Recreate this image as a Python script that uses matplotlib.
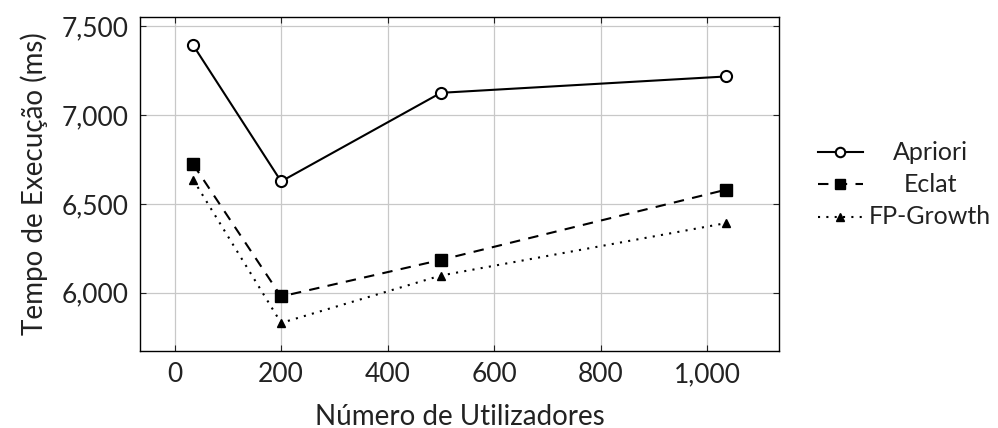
import matplotlib.pyplot as plt
from matplotlib.lines import Line2D
from matplotlib.ticker import FuncFormatter

plt.rcParams['font.family'] = ['Lato', 'DejaVu Sans']

# dados
utilizadores = [35, 200, 500, 1035]
apriori = [7393, 6627, 7126, 7218]
eclat = [6723, 5979, 6185, 6580]
fp_growth = [6636, 5830, 6097, 6392]

series = [
    ('Apriori', apriori, dict(linestyle='-', marker='o', markersize=8,
                              markerfacecolor='white', markeredgewidth=1.5)),
    ('Eclat', eclat, dict(linestyle=(0, (5, 4)), marker='s', markersize=8)),
    ('FP-Growth', fp_growth, dict(linestyle=(0, (1, 3)), marker='^', markersize=6)),
]

W, H = 998, 428
fig = plt.figure(figsize=(W / 100, H / 100), dpi=100)
ax = fig.add_axes([140 / W, 1 - 351 / H, 639 / W, 334 / H])

for nome, valores, estilo in series:
    ax.plot(utilizadores, valores, color='black', linewidth=1.5, label=nome, **estilo)

ax.set_xlim(-65, 1135)
ax.set_ylim(5672, 7553)
ax.set_xticks([0, 200, 400, 600, 800, 1000])
ax.set_yticks([6000, 6500, 7000, 7500])
fmt = FuncFormatter(lambda v, p: f"{v:,.0f}")
ax.xaxis.set_major_formatter(fmt)
ax.yaxis.set_major_formatter(fmt)

ax.grid(True, color='#c8c8c8', linewidth=0.9)
ax.set_axisbelow(True)
ax.tick_params(direction='in', top=True, right=True, length=4, labelsize=19,
               pad=8, colors='#222222')
for s in ax.spines.values():
    s.set_linewidth(1.0)

ax.set_xlabel('Número de Utilizadores', fontsize=20, labelpad=12, color='#222222')
ax.set_ylabel('Tempo de Execução (ms)', fontsize=20, labelpad=10, color='#222222')

# legenda desenhada à mão (texto centrado como no pgfplots)
linhas_y = [152, 184, 217]
for (nome, valores, estilo), yy in zip(series, linhas_y):
    est = dict(estilo)
    est['markersize'] = est['markersize'] * 0.85
    fy = 1 - yy / H
    fig.add_artist(Line2D([818 / W, 840 / W, 863 / W], [fy, fy, fy],
                          transform=fig.transFigure, color='black', linewidth=1.5,
                          markevery=[1], **est))
    fig.text(930 / W, fy, nome, ha='center', va='center', fontsize=18, color='#222222')

fig.savefig('out.png', dpi=100)
